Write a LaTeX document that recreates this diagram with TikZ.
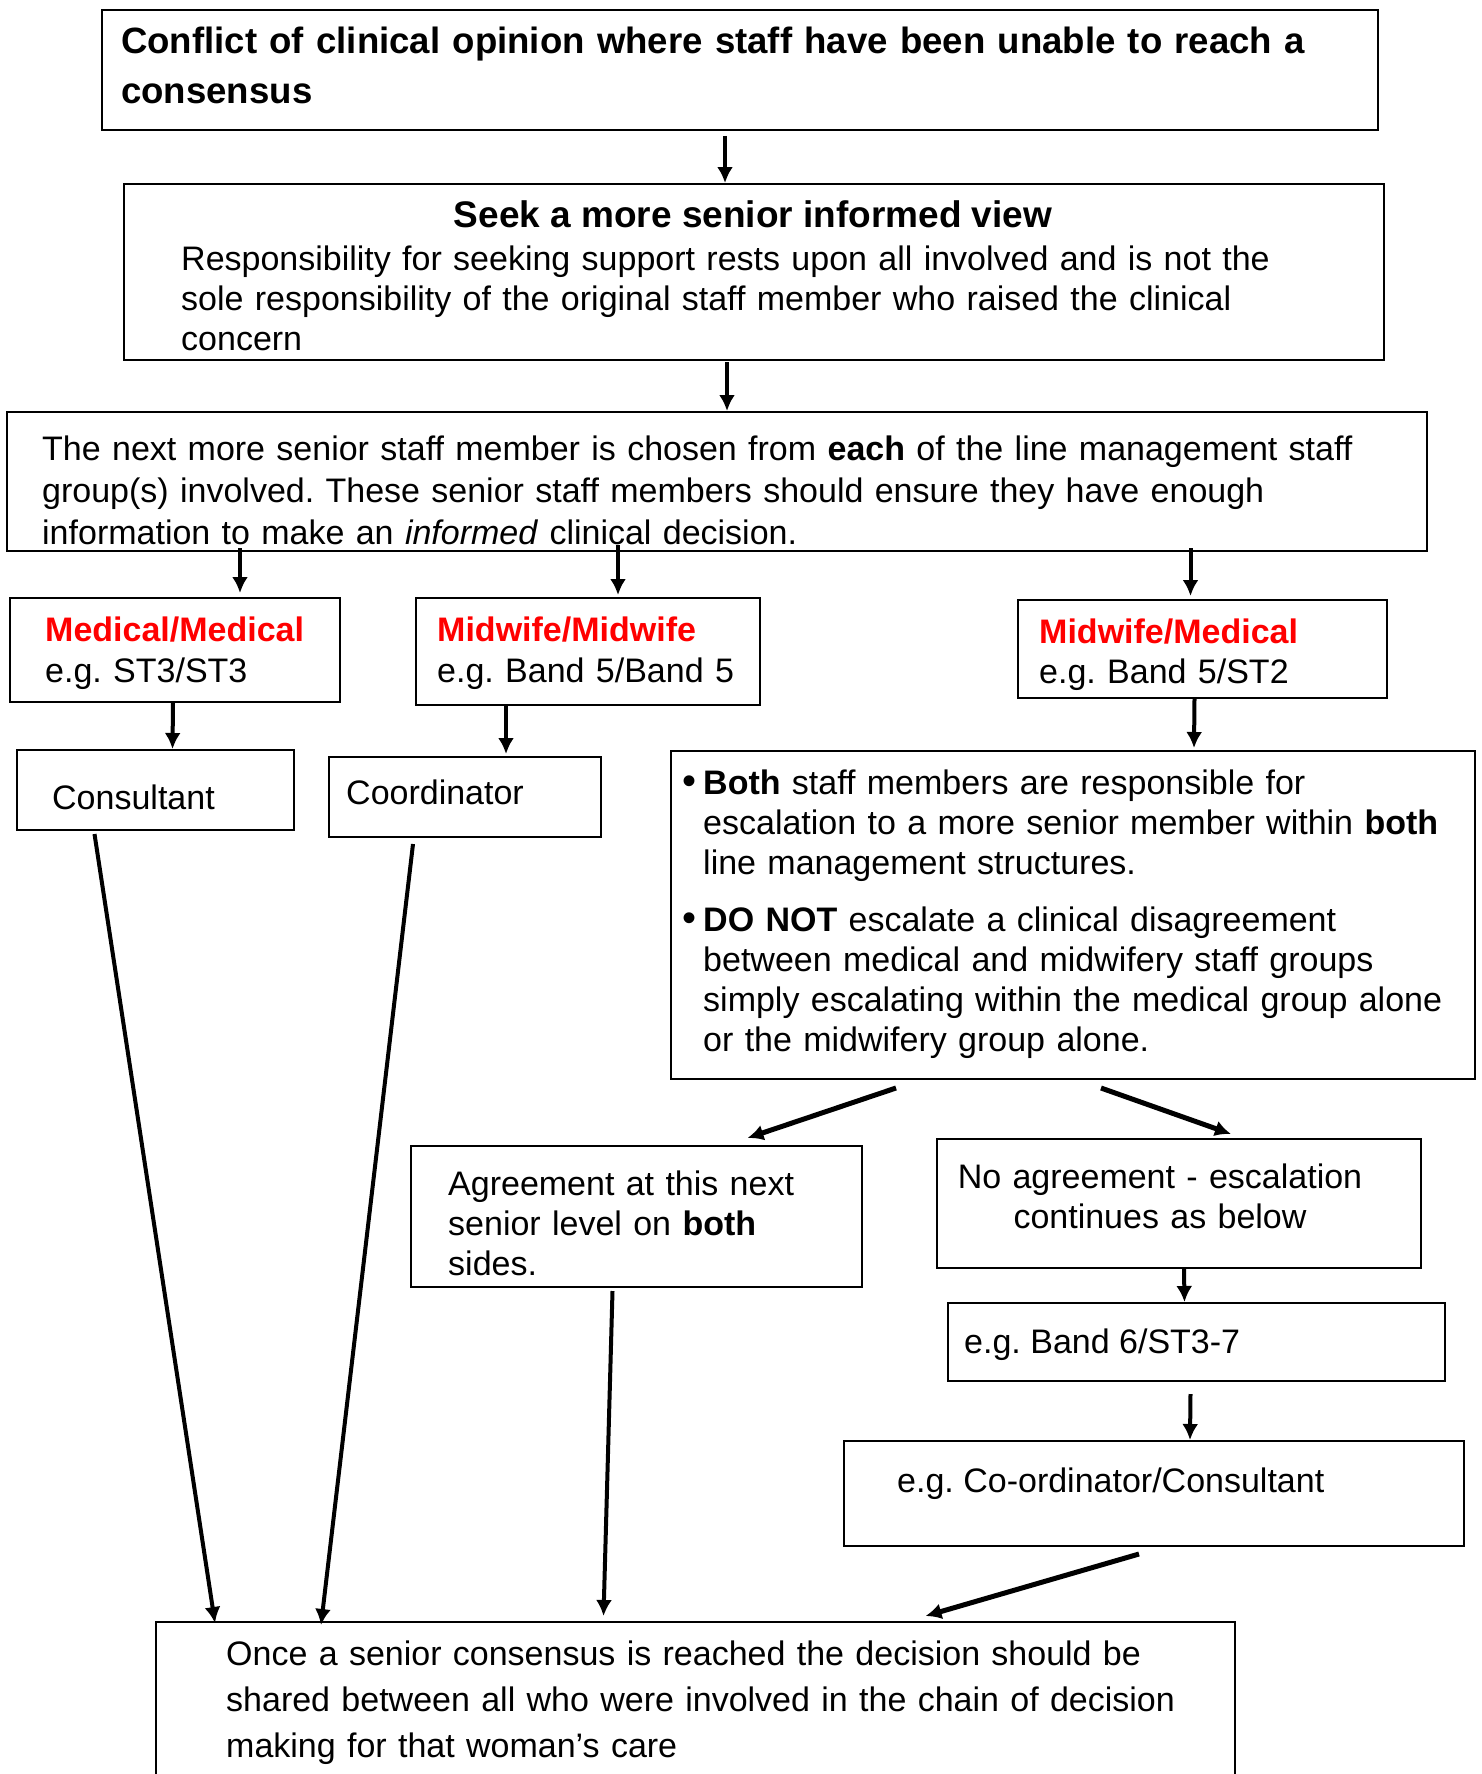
\documentclass[tikz,border=0pt]{standalone}
\usepackage{fontspec}
\setmainfont{Liberation Sans}
\usetikzlibrary{arrows.meta,positioning,calc}
\definecolor{groupred}{RGB}{255,0,0}
\newcommand{\smallbullet}{\makebox[21pt][l]{\fontsize{40}{40}\selectfont\textbullet}}
\tikzset{
    box/.style = {draw, rectangle, line width=2pt, inner sep=0pt, anchor=north west},
    txt/.style = {anchor=base west, inner sep=0pt, align=left,
        font=\fontsize{34}{40}\selectfont},
    arrow/.style = {draw, line width=4pt, -{Latex[length=16pt,width=16pt]}},
    thickarrow/.style = {arrow, line width=5pt}
}
\frenchspacing

\begin{document}
\begin{tikzpicture}[x=1pt,y=-1pt]
        \useasboundingbox (0,0) rectangle (1481,1774);
        % boxes
        \node [box, minimum width=1276pt, minimum height=120pt] (conflict) at (101,9) {};
        \node [box, minimum width=1260pt, minimum height=176pt] (seek) at (123,183) {};
        \node [box, minimum width=1420pt, minimum height=139pt] (senior) at (6,411) {};
        \node [box, minimum width=330pt, minimum height=104pt] (medmed) at (9,597) {};
        \node [box, minimum width=344pt, minimum height=107pt] (midmid) at (415,597) {};
        \node [box, minimum width=369pt, minimum height=98pt] (midmed) at (1017,599) {};
        \node [box, minimum width=277pt, minimum height=80pt] (consultant) at (16,749) {};
        \node [box, minimum width=272pt, minimum height=80pt] (coordinator) at (328,756) {};
        \node [box, minimum width=804pt, minimum height=328pt] (bullets) at (670,750) {};
        \node [box, minimum width=451pt, minimum height=141pt] (agree) at (410,1145) {};
        \node [box, minimum width=484pt, minimum height=129pt] (noagree) at (936,1138) {};
        \node [box, minimum width=497pt, minimum height=78pt] (band) at (947,1302) {};
        \node [box, minimum width=620pt, minimum height=105pt] (coordcons) at (843,1440) {};
        \node [box, minimum width=1079pt, minimum height=200pt] (shared) at (155,1621) {};
        % texts
        \node [txt, text width=1260pt, font=\fontsize{36.6}{50}\selectfont\bfseries] (conflict-t) at (121,54)
            {Conflict of clinical opinion where staff have been unable to reach a\\ consensus};
        \node [txt, anchor=base, font=\fontsize{37}{40}\selectfont\bfseries] (seek-h) at (753,227) {Seek a more senior informed view};
        \node [txt, text width=1180pt] (seek-t) at (181,270)
            {Responsibility for seeking support rests upon all involved and is not the\\
             sole responsibility of the original staff member who raised the clinical\\ concern};
        \node [txt, text width=1380pt, font=\fontsize{34}{42}\selectfont] (senior-t) at (42,460)
            {The next more senior staff member is chosen from \textbf{each} of the line management staff\\
             group(s) involved. These senior staff members should ensure they have enough\\
             information to make an \textit{informed} clinical decision.};
        \node [txt, text width=300pt, font=\fontsize{34}{41}\selectfont] (medmed-t) at (45,641)
            {\textcolor{groupred}{\textbf{Medical/Medical}}\\ e.g. ST3/ST3};
        \node [txt, text width=320pt, font=\fontsize{34}{41}\selectfont] (midmid-t) at (437,641)
            {\textcolor{groupred}{\textbf{Midwife/Midwife}}\\ e.g. Band 5/Band 5};
        \node [txt, text width=340pt, font=\fontsize{34}{40}\selectfont] (midmed-t) at (1039,643)
            {\textcolor{groupred}{\textbf{Midwife/Medical}}\\ e.g. Band 5/ST2};
        \node [txt] (consultant-t) at (52,809) {Consultant};
        \node [txt] (coordinator-t) at (346,804) {Coordinator};
        \node [txt, text width=785pt] (bullets-t) at (682,794)
            {\leftskip=21pt\hspace*{-21pt}\smallbullet\textbf{Both} staff members are responsible for\\
             escalation to a more senior member within \textbf{both}\\ line management structures.\par
             \vspace{17pt}
             \hspace*{-21pt}\smallbullet\textbf{DO NOT} escalate a clinical disagreement\\
             between medical and midwifery staff groups\\ simply escalating within the medical group alone\\
             or the midwifery group alone.\par};
        \node [txt, text width=420pt] (agree-t) at (448,1195)
            {Agreement at this next\\ senior level on \textbf{both}\\ sides.};
        \node [txt, anchor=base, align=center, text width=470pt] (noagree-t) at (1160,1188)
            {No agreement - escalation\\ continues as below};
        \node [txt] (band-t) at (964,1353) {e.g. Band 6/ST3-7};
        \node [txt] (coordcons-t) at (897,1492) {e.g. Co-ordinator/Consultant};
        \node [txt, text width=1000pt, font=\fontsize{34}{46}\selectfont] (shared-t) at (226,1665)
            {Once a senior consensus is reached the decision should be\\
             shared between all who were involved in the chain of decision\\
             making for that woman’s care};
        % connectors
        \draw [arrow] ([xshift=-15pt,yshift=-5pt]conflict.south) -- ([xshift=-29pt]seek.north);
        \draw [arrow] ([xshift=-27pt,yshift=-1pt]seek.south) -- ([xshift=10pt]senior.north);
        \draw [arrow] ([xshift=65pt]medmed.north |- senior.south) ++(0,-4) -- ([xshift=65pt,yshift=4pt]medmed.north);
        \draw [arrow] ([xshift=30pt]midmid.north |- senior.south) ++(0,-7) -- ([xshift=30pt,yshift=2pt]midmid.north);
        \draw [arrow] ([xshift=-12pt]midmed.north |- senior.south) ++(0,-4) -- ([xshift=-12pt,yshift=3pt]midmed.north);
        \draw [arrow] ([xshift=-2pt]medmed.south) -- ([xshift=17pt]consultant.north);
        \draw [arrow] ([xshift=-82pt]midmid.south) -- ([xshift=41pt,yshift=2pt]coordinator.north);
        \draw [arrow] ([xshift=-8pt]midmed.south) -- ([xshift=121pt,yshift=2pt]bullets.north);
        \draw [thickarrow] ([xshift=-177pt,yshift=-8pt]bullets.south) -- ([xshift=111pt,yshift=7pt]agree.north);
        \draw [thickarrow] ([xshift=28pt,yshift=-8pt]bullets.south) -- ([xshift=52pt,yshift=4pt]noagree.north);
        \draw [arrow] ([xshift=5pt]noagree.south) -- ([xshift=-12pt]band.north);
        \draw [arrow] ([xshift=-6pt,yshift=-12pt]band.south) -- ([xshift=36pt]coordcons.north);
        \draw [thickarrow] ([xshift=-15pt,yshift=-7pt]coordcons.south) -- ([xshift=230pt,yshift=5pt]shared.north);
        \draw [arrow] ([xshift=-61pt,yshift=-3pt]consultant.south) -- ([xshift=60pt,yshift=-2pt]shared.north west);
        \draw [arrow] ([xshift=-52pt,yshift=-6pt]coordinator.south) -- ([xshift=166pt,yshift=-4pt]shared.north west);
        \draw [arrow] ([xshift=-24pt,yshift=-3pt]agree.south) -- ([xshift=-92pt,yshift=5pt]shared.north);
    \end{tikzpicture}
\end{document}
